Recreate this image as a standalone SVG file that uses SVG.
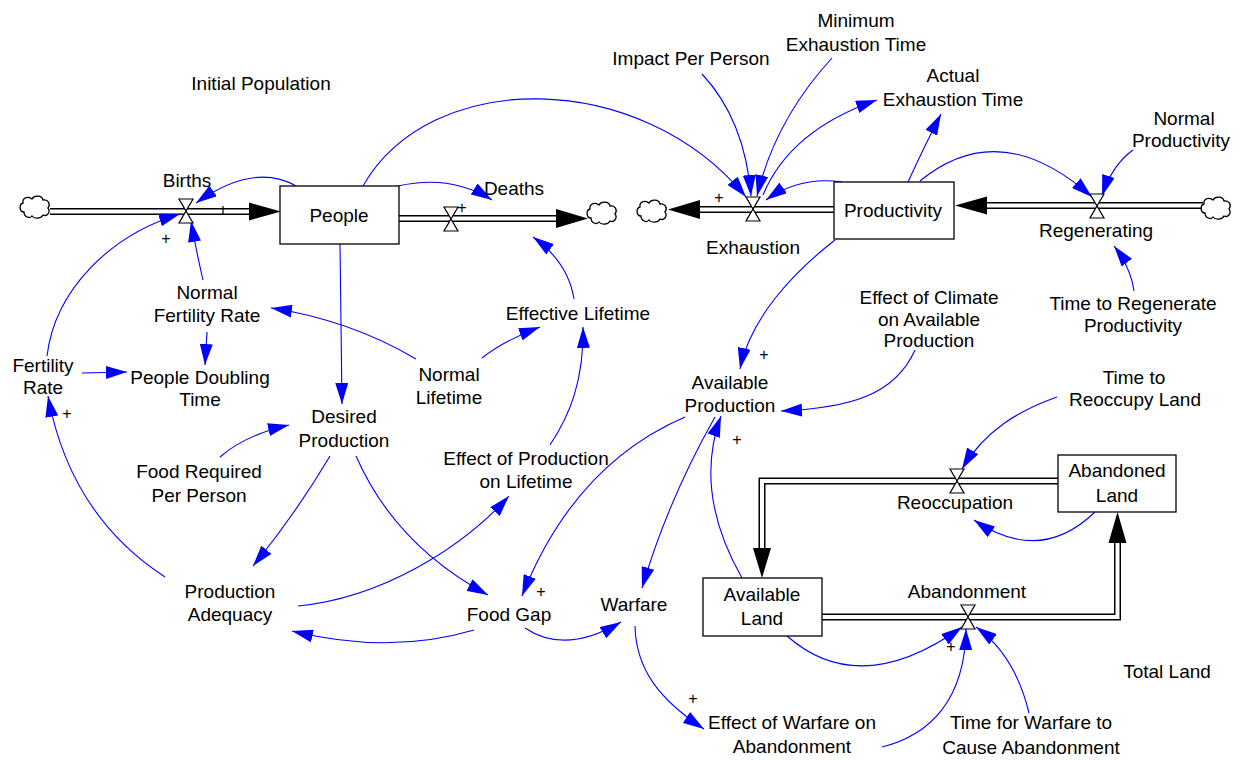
<svg xmlns="http://www.w3.org/2000/svg" width="1241" height="760" viewBox="0 0 1241 760">
<style>
.lbl{font-family:"Liberation Sans",Arial,sans-serif;font-size:19px;fill:#000;text-anchor:middle}
.pol{font-family:"Liberation Sans",Arial,sans-serif;font-size:16px;fill:#000;text-anchor:middle}
.link{fill:none;stroke:#0000ff;stroke-width:1.1;marker-end:url(#ah)}
.stock{fill:#fff;stroke:#000;stroke-width:1.3}
.po{fill:none;stroke:#000;stroke-width:7;stroke-linejoin:miter}
.pi{fill:none;stroke:#fff;stroke-width:4;stroke-linejoin:miter}
.fh{fill:#000;stroke:none}
.valve{fill:#fff;stroke:#000;stroke-width:1.2}
.cloud{fill:#fff;stroke:#000;stroke-width:1.3}
</style>
<defs>
<marker id="ah" markerUnits="userSpaceOnUse" markerWidth="22" markerHeight="13" viewBox="0 0 22 13" refX="21" refY="6.5" orient="auto">
<path d="M0,0 L21,6.5 L0,13 z" fill="#0000ff"/>
</marker>
<path id="cl" d="M-11,5 C-16,5 -16,-3 -12,-4 C-13,-10 -6,-11 -3,-8 C-1,-12 7,-12 8,-7 C13,-8 16,-3 13,1 C16,5 12,10 8,8 C6,12 -1,12 -3,9 C-5,12 -11,10 -11,5 Z"/>
<path id="vv" d="M-7,-12 L7,-12 L-7,12 L7,12 Z"/>
</defs>
<rect width="1241" height="760" fill="#fff"/>

<g id="flows">
<path class="po" d="M50,211.5 L250,211.5"/><path class="pi" d="M50,211.5 L250,211.5"/>
<polygon class="fh" points="249,202.5 281,211.5 249,220.5"/>
<path class="po" d="M399,218.5 L557,218.5"/><path class="pi" d="M399,218.5 L557,218.5"/>
<polygon class="fh" points="556,209 588,218.5 556,228"/>
<path class="po" d="M834,209.5 L699,209.5"/><path class="pi" d="M834,209.5 L699,209.5"/>
<polygon class="fh" points="700,200 668,209.5 700,219"/>
<path class="po" d="M1203,205.5 L986,205.5"/><path class="pi" d="M1203,205.5 L986,205.5"/>
<polygon class="fh" points="987,196.5 955,205.5 987,214.5"/>
<path class="po" d="M1058,481 L762,481 L762,549"/><path class="pi" d="M1058,481 L762,481 L762,549"/>
<polygon class="fh" points="753,548 762,578 771,548"/>
<path class="po" d="M822,617 L1117.5,617 L1117.5,542"/><path class="pi" d="M822,617 L1117.5,617 L1117.5,542"/>
<polygon class="fh" points="1108.5,543 1117.5,512 1126.5,543"/>
<use href="#cl" class="cloud" x="35" y="207"/>
<use href="#cl" class="cloud" x="602" y="213"/>
<use href="#cl" class="cloud" x="652" y="211"/>
<use href="#cl" class="cloud" x="1216" y="208"/>
<line x1="223" y1="206" x2="223" y2="214" stroke="#000" stroke-width="1.2"/>
</g>

<g id="connectors">
<path class="link" d="M296,186 Q254,162 196,203"/>
<path class="link" d="M203,280 Q196,250 191,221"/>
<path class="link" d="M47,356 C55,290 110,235 180,214"/>
<path class="link" d="M398,186 Q450,174 492,200"/>
<path class="link" d="M574,299 Q568,262 533,237"/>
<path class="link" d="M363,186 C430,68 640,68 746,197"/>
<path class="link" d="M702,74 Q745,120 751,196"/>
<path class="link" d="M832,58 Q775,120 757,196"/>
<path class="link" d="M763,195 Q790,130 877,100"/>
<path class="link" d="M842,182 Q800,176 766,200"/>
<path class="link" d="M908,182 Q925,145 941,114"/>
<path class="link" d="M920,181 Q1000,115 1092,197"/>
<path class="link" d="M1133,150 Q1112,165 1102,196"/>
<path class="link" d="M1134,291 Q1131,268 1114,246"/>
<path class="link" d="M835,240 C790,275 750,320 740,369"/>
<path class="link" d="M915,350 C895,395 850,408 781,411"/>
<path class="link" d="M685,417 C620,445 560,500 522,596"/>
<path class="link" d="M715,417 Q668,500 642,588"/>
<path class="link" d="M742,578 Q693,492 721,416"/>
<path class="link" d="M416,359 Q350,320 271,308"/>
<path class="link" d="M482,358 Q505,340 540,327"/>
<path class="link" d="M207,332 L205,365"/>
<path class="link" d="M82,373 L127,372"/>
<path class="link" d="M340,244 L342,404"/>
<path class="link" d="M220,457 Q245,435 289,425"/>
<path class="link" d="M330,456 Q295,515 253,566"/>
<path class="link" d="M356,456 Q395,545 488,595"/>
<path class="link" d="M165,577 Q70,515 48,396"/>
<path class="link" d="M298,606 C380,598 460,550 509,496"/>
<path class="link" d="M550,445 C570,415 584,380 583,327"/>
<path class="link" d="M474,630 Q390,655 292,631"/>
<path class="link" d="M525,628 Q565,655 621,622"/>
<path class="link" d="M635,626 C636,670 660,700 704,729"/>
<path class="link" d="M882,747 C930,735 965,700 966,629"/>
<path class="link" d="M1029,713 Q1015,655 976,627"/>
<path class="link" d="M787,636 Q860,700 962,627"/>
<path class="link" d="M1095,512 Q1040,565 974,520"/>
<path class="link" d="M1057,397 C1020,410 985,430 962,469"/>
</g>

<g id="polarities">
<text class="pol" x="166" y="244">+</text>
<text class="pol" x="462" y="213">+</text>
<text class="pol" x="719" y="203">+</text>
<text class="pol" x="764" y="360">+</text>
<text class="pol" x="737" y="445">+</text>
<text class="pol" x="67" y="419">+</text>
<text class="pol" x="541" y="597">+</text>
<text class="pol" x="693" y="704">+</text>
<text class="pol" x="951" y="652">+</text>
</g>

<g id="n-initial-population"><text class="lbl" x="261" y="90">Initial Population</text></g>
<g id="n-births"><use href="#vv" class="valve" x="186" y="211"/><text class="lbl" x="187" y="187">Births</text></g>
<g id="n-people"><rect class="stock" x="280" y="186" width="119" height="58"/><text class="lbl" x="339" y="222">People</text></g>
<g id="n-deaths"><use href="#vv" class="valve" x="451" y="219"/><text class="lbl" x="514" y="195">Deaths</text></g>
<g id="n-minimum-exhaustion-time"><text class="lbl" x="856" y="27">Minimum</text><text class="lbl" x="856" y="51">Exhaustion Time</text></g>
<g id="n-impact-per-person"><text class="lbl" x="691" y="65">Impact Per Person</text></g>
<g id="n-actual-exhaustion-time"><text class="lbl" x="953" y="82">Actual</text><text class="lbl" x="953" y="106">Exhaustion Time</text></g>
<g id="n-normal-productivity"><text class="lbl" x="1184" y="125">Normal</text><text class="lbl" x="1181" y="146.5">Productivity</text></g>
<g id="n-productivity"><rect class="stock" x="834" y="182" width="120" height="57"/><text class="lbl" x="893" y="217">Productivity</text></g>
<g id="n-exhaustion"><use href="#vv" class="valve" x="753" y="209"/><text class="lbl" x="753" y="254">Exhaustion</text></g>
<g id="n-regenerating"><use href="#vv" class="valve" x="1097" y="206"/><text class="lbl" x="1096" y="237">Regenerating</text></g>
<g id="n-time-to-regenerate"><text class="lbl" x="1133" y="310">Time to Regenerate</text><text class="lbl" x="1133" y="331.5">Productivity</text></g>
<g id="n-normal-fertility-rate"><text class="lbl" x="207" y="299">Normal</text><text class="lbl" x="207" y="322">Fertility Rate</text></g>
<g id="n-effective-lifetime"><text class="lbl" x="578" y="320">Effective Lifetime</text></g>
<g id="n-effect-of-climate"><text class="lbl" x="929" y="304">Effect of Climate</text><text class="lbl" x="929" y="325.5">on Available</text><text class="lbl" x="929" y="347">Production</text></g>
<g id="n-fertility-rate"><text class="lbl" x="43" y="372">Fertility</text><text class="lbl" x="43" y="393.5">Rate</text></g>
<g id="n-people-doubling-time"><text class="lbl" x="200" y="384">People Doubling</text><text class="lbl" x="200" y="406">Time</text></g>
<g id="n-normal-lifetime"><text class="lbl" x="449" y="381">Normal</text><text class="lbl" x="449" y="404">Lifetime</text></g>
<g id="n-available-production"><text class="lbl" x="730" y="389">Available</text><text class="lbl" x="730" y="412">Production</text></g>
<g id="n-time-to-reoccupy"><text class="lbl" x="1134" y="384">Time to</text><text class="lbl" x="1135" y="405.5">Reoccupy Land</text></g>
<g id="n-desired-production"><text class="lbl" x="344" y="423">Desired</text><text class="lbl" x="344" y="447">Production</text></g>
<g id="n-effect-of-production"><text class="lbl" x="526" y="465">Effect of Production</text><text class="lbl" x="526" y="488">on Lifetime</text></g>
<g id="n-food-required"><text class="lbl" x="199" y="478">Food Required</text><text class="lbl" x="199" y="502">Per Person</text></g>
<g id="n-abandoned-land"><rect class="stock" x="1058" y="455" width="118" height="57"/><text class="lbl" x="1117" y="477">Abandoned</text><text class="lbl" x="1117" y="502">Land</text></g>
<g id="n-reoccupation"><use href="#vv" class="valve" x="957" y="481"/><text class="lbl" x="955" y="509">Reoccupation</text></g>
<g id="n-abandonment"><use href="#vv" class="valve" x="968" y="617"/><text class="lbl" x="967" y="598">Abandonment</text></g>
<g id="n-available-land"><rect class="stock" x="703" y="578" width="119" height="58"/><text class="lbl" x="762" y="601">Available</text><text class="lbl" x="762" y="625">Land</text></g>
<g id="n-production-adequacy"><text class="lbl" x="230" y="598">Production</text><text class="lbl" x="230" y="621">Adequacy</text></g>
<g id="n-food-gap"><text class="lbl" x="509" y="621">Food Gap</text></g>
<g id="n-warfare"><text class="lbl" x="634" y="611">Warfare</text></g>
<g id="n-total-land"><text class="lbl" x="1167" y="678">Total Land</text></g>
<g id="n-effect-of-warfare"><text class="lbl" x="792" y="729">Effect of Warfare on</text><text class="lbl" x="792" y="753">Abandonment</text></g>
<g id="n-time-for-warfare"><text class="lbl" x="1031" y="729">Time for Warfare to</text><text class="lbl" x="1031" y="754">Cause Abandonment</text></g>
</svg>
